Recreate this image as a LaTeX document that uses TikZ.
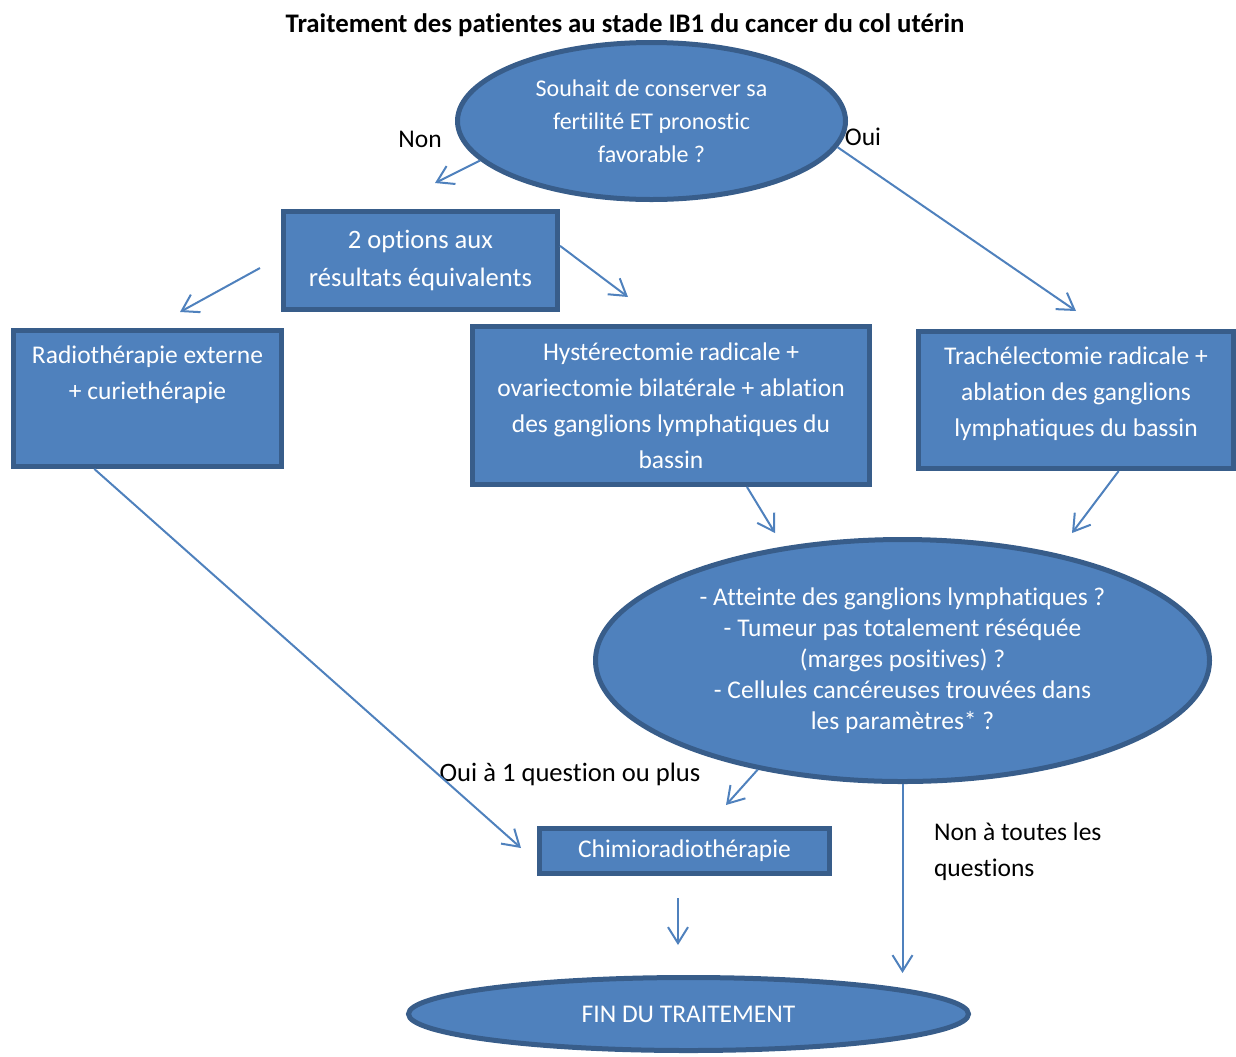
\documentclass[tikz,border=0pt]{standalone}
\usepackage{fontspec}
\setmainfont[Ligatures=NoCommon,Contextuals=NoAlternate]{Carlito}
\usetikzlibrary{shapes.geometric,arrows.meta}
\definecolor{boxfill}{HTML}{4F81BD}
\definecolor{boxline}{HTML}{385D8A}

\def\lw{2.5pt}
\def\fs#1#2{\fontsize{#1}{#2}\selectfont}

\begin{document}
\begin{tikzpicture}[x=0.5pt, y=-0.5pt,
    nodes={font=\fs{12.75pt}{18pt}},
    box/.style={rectangle, draw=boxline, fill=boxfill, line width=\lw,
        text=white, align=center, inner sep=0pt},
    bubble/.style={ellipse, draw=boxline, fill=boxfill, line width=\lw,
        text=white, align=center, inner sep=0pt},
    flow/.style={draw=boxfill, line width=1pt,
        -{Straight Barb[length=8pt,width=10pt]}},
    ]
    \useasboundingbox (0,0) rectangle (1236,1056);

    \node[font=\fs{13.4pt}{18pt}\bfseries] (title) at (625,25)
        {Traitement des patientes au stade IB1 du cancer du col utérin};

    % question 1
    \node[bubble, minimum width=194pt, minimum height=78.5pt, font=\fs{12pt}{16.5pt}] (q1) at (651.5,121)
        {Souhait de conserver sa\\fertilité ET pronostic\\favorable ?};
    \node (non) at (420,139) {Non};
    \node (oui) at (863,137) {Oui};

    % treatments
    \node[box, minimum width=137pt, minimum height=49pt, font=\fs{13.3pt}{19pt}] (opts) at (420.5,260.5)
        {2 options aux\\résultats équivalents};
    \node[box, minimum width=134pt, minimum height=68pt] (radio) at (147.5,398.5) {};
    \node[text=white, align=center] (radiotxt) at (147.5,375)
        {Radiothérapie externe\\+ curiethérapie};
    \node[box, minimum width=198.5pt, minimum height=79pt] (hyst) at (671,405.5)
        {Hystérectomie radicale +\\ovariectomie bilatérale + ablation\\des ganglions lymphatiques du\\bassin};
    \node[box, minimum width=157.5pt, minimum height=68.5pt] (trach) at (1076,400) {};
    \node[text=white, align=center] (trachtxt) at (1076,394)
        {Trachélectomie radicale +\\ablation des ganglions\\lymphatiques du bassin};

    % question 2
    \node[bubble, minimum width=307pt, minimum height=121pt, font=\fs{12.75pt}{15.5pt}] (q2) at (902.5,660.5)
        {- Atteinte des ganglions lymphatiques ?\\- Tumeur pas totalement réséquée\\(marges positives) ?\\- Cellules cancéreuses trouvées dans\\les paramètres* ?};
    \node[font=\fs{13.3pt}{18pt}] (ouiq) at (570,774) {Oui à 1 question ou plus};
    \node[anchor=west, align=left] (nonq) at (927,852) {Non à toutes les\\questions};

    \node[box, minimum width=145pt, minimum height=22.5pt] (chimio) at (684.5,851) {Chimioradiothérapie};
    \node[bubble, minimum width=280pt, minimum height=36.5pt] (fin) at (688.5,1014) {FIN DU TRAITEMENT};

    % arrows
    \coordinate (nonend) at (435,183);
    \coordinate (ouiend) at (1076,311);
    \coordinate (radioend) at (180,312);
    \coordinate (hystend) at (628,297);
    \coordinate (q2a) at (775,533);
    \coordinate (q2b) at (1072,533);
    \coordinate (chimioa) at (521,848);
    \coordinate (chimiob) at (726,805);
    \coordinate (fina) at (678,945);
    \coordinate (finb) at (902.5,973);

    \draw[flow] (q1.193) -- (nonend);
    \draw[flow] (q1.352) -- (ouiend);
    \draw[flow] ([shift={(-21,7.5)}]opts.west) -- (radioend);
    \draw[flow] (opts.6) -- (hystend);
    \draw[flow] (hyst.-47) -- (q2a);
    \draw[flow] (trach.-59) -- (q2b);
    \draw[flow] (radio.233) -- (chimioa);
    \draw[flow] (q2.217) -- (chimiob);
    \draw[flow] ([shift={(-6.5,22)}]chimio.south) -- (fina);
    \draw[flow] (q2.south) -- (finb);
\end{tikzpicture}
\end{document}
